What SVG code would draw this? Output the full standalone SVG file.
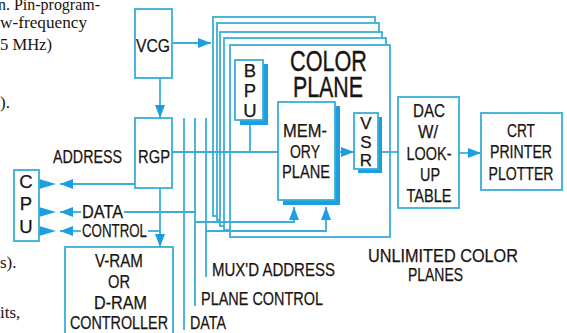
<svg xmlns="http://www.w3.org/2000/svg" width="567" height="333" viewBox="0 0 567 333">
<style>
.ln{fill:none;stroke:#3aaed8;stroke-width:1.8}
.bx{fill:#fff;stroke:#3aaed8;stroke-width:1.8}
.sh{fill:#1b9fe0}
.t{font-family:"Liberation Sans",Arial,sans-serif;font-size:18.5px;fill:#1a1410;stroke:#1a1410;stroke-width:0.25}
.m{text-anchor:middle}
.big{font-size:30px;stroke-width:0.4}
.sm{font-size:17px}
.s{font-family:"Liberation Serif","Times New Roman",serif;font-size:17px;fill:#1a1410}
</style>
<defs>
<marker id="ah" markerUnits="userSpaceOnUse" markerWidth="13" markerHeight="10" refX="13" refY="5" orient="auto">
<path d="M0,0 L13,5 L0,10 z" fill="#1b9fe0"/>
</marker>
<path id="tri" d="M0,-5 L17,0 L0,5 z" fill="#1b9fe0"/>
</defs>

<g id="page-text">
<text class="s" x="-2" y="10" textLength="102" lengthAdjust="spacingAndGlyphs">n. Pin-program-</text>
<text class="s" x="0" y="28" textLength="87" lengthAdjust="spacingAndGlyphs">w-frequency</text>
<text class="s" x="0" y="50" textLength="52" lengthAdjust="spacingAndGlyphs">5 MHz)</text>
<text class="s" x="0" y="108">).</text>
<text class="s" x="0" y="268">s).</text>
<text class="s" x="0" y="318">its,</text>
</g>

<g id="color-plane-stack">
<rect class="bx" x="213" y="17" width="162" height="199"/>
<rect class="bx" x="217" y="23" width="162" height="197"/>
<rect class="bx" x="220" y="32" width="162" height="194"/>
<rect class="bx" x="224" y="38" width="162" height="192"/>
<rect class="bx" x="230" y="45" width="160" height="192"/>
<text class="t big" x="290" y="71" textLength="77" lengthAdjust="spacingAndGlyphs">COLOR</text>
<text class="t big" x="293" y="97" textLength="70" lengthAdjust="spacingAndGlyphs">PLANE</text>
</g>

<g id="connectors">
<path class="ln" d="M172,43 H211" marker-end="url(#ah)"/>
<path class="ln" d="M160,78 V118" marker-end="url(#ah)"/>
<path class="ln" d="M135,184 H60" marker-end="url(#ah)"/>
<path class="ln" d="M81,212 H60" marker-end="url(#ah)"/>
<path class="ln" d="M124,212 H195"/>
<path class="ln" d="M81,231 H60" marker-end="url(#ah)"/>
<path class="ln" d="M148,231 H160"/>
<path class="ln" d="M160,188 V247" marker-end="url(#ah)"/>
<path class="ln" d="M172,152 H278"/>
<path class="ln" d="M250,123 V152"/>
<path class="ln" d="M184,118 V330"/>
<path class="ln" d="M195,118 V306"/>
<path class="ln" d="M206,118 V277"/>
<path class="ln" d="M195,222 H294 V207" marker-end="url(#ah)"/>
<path class="ln" d="M206,231 H326 V207" marker-end="url(#ah)"/>
<path class="ln" d="M339,152 H354" marker-end="url(#ah)"/>
<path class="ln" d="M381,152 H398"/>
<path class="ln" d="M459,153 H481" marker-end="url(#ah)"/>
<use href="#tri" x="39" y="184"/>
<use href="#tri" x="39" y="212"/>
<use href="#tri" x="39" y="231"/>
</g>

<g id="vcg">
<rect class="bx" x="135" y="9" width="37" height="69"/>
<text class="t" x="136" y="52" textLength="34" lengthAdjust="spacingAndGlyphs">VCG</text>
</g>

<g id="rgp">
<rect class="bx" x="135" y="118" width="37" height="70"/>
<text class="t" x="138" y="163" textLength="32" lengthAdjust="spacingAndGlyphs">RGP</text>
</g>

<g id="cpu">
<rect class="bx" x="14" y="170" width="25" height="71"/>
<text class="t m" x="26" y="188">C</text>
<text class="t m" x="26" y="210">P</text>
<text class="t m" x="26" y="233">U</text>
</g>

<g id="bus-labels">
<text class="t" x="53" y="163" textLength="69" lengthAdjust="spacingAndGlyphs">ADDRESS</text>
<text class="t" x="82" y="218" textLength="41" lengthAdjust="spacingAndGlyphs">DATA</text>
<text class="t" x="82" y="237" textLength="65" lengthAdjust="spacingAndGlyphs">CONTROL</text>
<text class="t" x="212" y="276" textLength="123" lengthAdjust="spacingAndGlyphs">MUX'D ADDRESS</text>
<text class="t" x="201" y="305" textLength="122" lengthAdjust="spacingAndGlyphs">PLANE CONTROL</text>
<text class="t" x="190" y="329" textLength="36" lengthAdjust="spacingAndGlyphs">DATA</text>
<text class="t" x="368" y="262" textLength="150" lengthAdjust="spacingAndGlyphs">UNLIMITED COLOR</text>
<text class="t" x="408" y="281" textLength="55" lengthAdjust="spacingAndGlyphs">PLANES</text>
</g>

<g id="vram-controller">
<rect class="bx" x="65" y="247" width="108" height="95"/>
<text class="t" x="95" y="267" textLength="48" lengthAdjust="spacingAndGlyphs">V-RAM</text>
<text class="t" x="108" y="288" textLength="22" lengthAdjust="spacingAndGlyphs">OR</text>
<text class="t" x="94" y="309" textLength="53" lengthAdjust="spacingAndGlyphs">D-RAM</text>
<text class="t" x="70" y="329" textLength="98" lengthAdjust="spacingAndGlyphs">CONTROLLER</text>
</g>

<g id="bpu">
<rect class="sh" x="240" y="64" width="28" height="61"/>
<rect class="bx" x="235" y="60" width="28" height="60" stroke-width="1.2"/>
<text class="t m" x="250" y="77">B</text>
<text class="t m" x="250" y="97">P</text>
<text class="t m" x="250" y="117">U</text>
</g>

<g id="memory-plane">
<rect class="sh" x="283" y="106" width="57" height="99"/>
<rect class="bx" x="278" y="102" width="57" height="98" stroke-width="1.2"/>
<text class="t" x="283" y="137" textLength="44" lengthAdjust="spacingAndGlyphs">MEM-</text>
<text class="t" x="290" y="158" textLength="30" lengthAdjust="spacingAndGlyphs">ORY</text>
<text class="t" x="282" y="178" textLength="48" lengthAdjust="spacingAndGlyphs">PLANE</text>
</g>

<g id="vsr">
<rect class="sh" x="358" y="117" width="24" height="56"/>
<rect class="bx" x="354" y="113" width="24" height="56" stroke-width="1.2"/>
<text class="t m sm" x="366" y="129">V</text>
<text class="t m sm" x="366" y="148">S</text>
<text class="t m sm" x="366" y="166">R</text>
</g>

<g id="dac">
<rect class="bx" x="398" y="97" width="61" height="111"/>
<text class="t m" x="429" y="117" textLength="32" lengthAdjust="spacingAndGlyphs">DAC</text>
<text class="t m" x="428" y="138" textLength="20" lengthAdjust="spacingAndGlyphs">W/</text>
<text class="t m" x="429" y="160" textLength="45" lengthAdjust="spacingAndGlyphs">LOOK-</text>
<text class="t m" x="430" y="181" textLength="20" lengthAdjust="spacingAndGlyphs">UP</text>
<text class="t m" x="429" y="202" textLength="45" lengthAdjust="spacingAndGlyphs">TABLE</text>
</g>

<g id="crt">
<rect class="bx" x="481" y="113" width="81" height="77"/>
<text class="t m" x="521" y="137" textLength="28" lengthAdjust="spacingAndGlyphs">CRT</text>
<text class="t m" x="521" y="158" textLength="62" lengthAdjust="spacingAndGlyphs">PRINTER</text>
<text class="t m" x="521" y="180" textLength="65" lengthAdjust="spacingAndGlyphs">PLOTTER</text>
</g>
</svg>
